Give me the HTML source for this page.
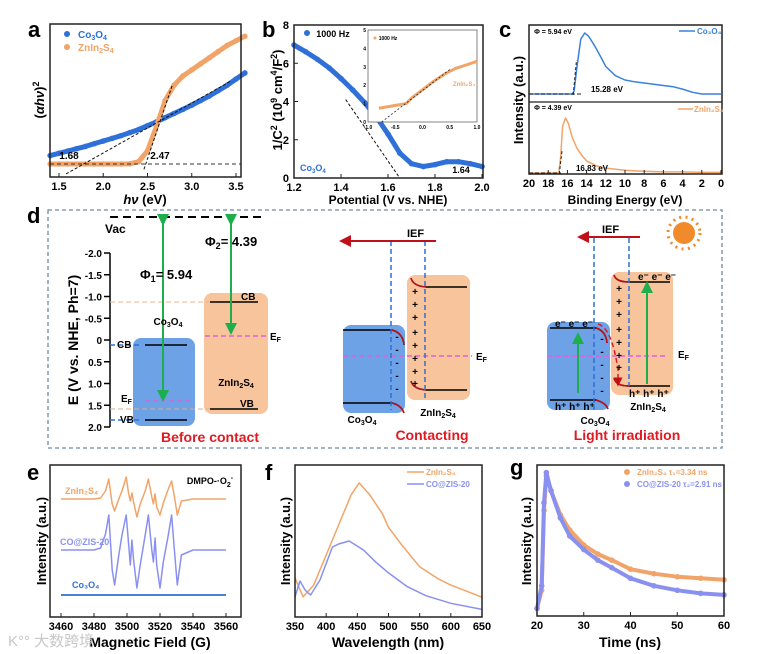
<!DOCTYPE html>
<html><head><meta charset="utf-8"><style>
html,body{margin:0;padding:0;background:#fff;}
svg{display:block;font-family:"Liberation Sans","Noto Sans CJK SC",sans-serif;}
.t{font-weight:bold;fill:#000;}
</style></head><body>
<svg id="fig" width="763" height="654" viewBox="0 0 763 654" xmlns="http://www.w3.org/2000/svg">
<defs>
<marker id="ag" markerWidth="6" markerHeight="6" refX="3" refY="3" orient="auto"><path d="M0,0 L6,3 L0,6 Z" fill="#1fae4e"/></marker>
<marker id="ar" markerWidth="6" markerHeight="6" refX="3" refY="3" orient="auto"><path d="M0,0 L6,3 L0,6 Z" fill="#c0101a"/></marker>
</defs>
<text x="28" y="37" font-size="22" class="t">a</text>
<text x="262" y="37" font-size="22" class="t">b</text>
<text x="499" y="37" font-size="22" class="t">c</text>
<text x="27" y="223" font-size="22" class="t">d</text>
<text x="27" y="480" font-size="22" class="t">e</text>
<text x="265" y="480" font-size="22" class="t">f</text>
<text x="510" y="475" font-size="22" class="t">g</text>

<g id="pa"></g>
<g id="pb"></g>
<g id="pc"></g>
<g id="pe"></g>
<g id="pf"></g>
<g id="pg"></g>

<g id="pd">
<rect x="48" y="210" width="674" height="238" fill="none" stroke="#6a8aa8" stroke-width="1.3" stroke-dasharray="4,3"/>
<line x1="110" y1="253" x2="110" y2="427" stroke="#000" stroke-width="1.5"/>
<g id="dticks"></g>
<text transform="translate(78,340) rotate(-90)" text-anchor="middle" font-size="14" class="t">E (V vs. NHE, Ph=7)</text>
<line x1="110" y1="217" x2="262" y2="217" stroke="#000" stroke-width="2" stroke-dasharray="8,5"/>
<text x="105" y="233" font-size="12" class="t">Vac</text>
<rect x="204" y="293" width="64" height="121" rx="8" fill="#f7c49b"/>
<rect x="133" y="338" width="62" height="88" rx="8" fill="#6ea2e6"/>
<line x1="110" y1="302" x2="210" y2="302" stroke="#e8b488" stroke-dasharray="5,3"/>
<line x1="110" y1="409" x2="258" y2="409" stroke="#d8b090" stroke-dasharray="5,3"/>
<line x1="110" y1="345" x2="142" y2="345" stroke="#2e6fd8" stroke-width="1.5" stroke-dasharray="5,3"/>
<line x1="110" y1="420" x2="142" y2="420" stroke="#2e6fd8" stroke-width="1.5" stroke-dasharray="5,3"/>
<line x1="145" y1="345" x2="187" y2="345" stroke="#000" stroke-width="1.6"/>
<line x1="145" y1="420" x2="187" y2="420" stroke="#000" stroke-width="1.6"/>
<line x1="210" y1="302" x2="258" y2="302" stroke="#000" stroke-width="1.6"/>
<line x1="210" y1="409" x2="258" y2="409" stroke="#000" stroke-width="1.6"/>
<line x1="145" y1="401" x2="192" y2="401" stroke="#e060e0" stroke-width="1.5" stroke-dasharray="5,3"/>
<line x1="205" y1="336" x2="266" y2="336" stroke="#e060e0" stroke-width="1.5" stroke-dasharray="5,3"/>
<line x1="163" y1="220" x2="163" y2="396" stroke="#1fae4e" stroke-width="2" marker-start="url(#ag)" marker-end="url(#ag)"/>
<line x1="231" y1="220" x2="231" y2="329" stroke="#1fae4e" stroke-width="2" marker-start="url(#ag)" marker-end="url(#ag)"/>
<text x="140" y="279" font-size="13" class="t">Φ<tspan font-size="9" dy="3">1</tspan><tspan dy="-3">= 5.94</tspan></text>
<text x="205" y="246" font-size="13" class="t">Φ<tspan font-size="9" dy="3">2</tspan><tspan dy="-3">= 4.39</tspan></text>
<text x="117" y="348" font-size="10" class="t">CB</text>
<text x="120" y="423" font-size="10" class="t">VB</text>
<text x="121" y="402" font-size="10" class="t">E<tspan font-size="7" dy="2">F</tspan></text>
<text x="241" y="300" font-size="10" class="t">CB</text>
<text x="240" y="407" font-size="10" class="t">VB</text>
<text x="270" y="340" font-size="10" class="t">E<tspan font-size="7" dy="2">F</tspan></text>
<text x="168" y="325" font-size="10" text-anchor="middle" class="t">Co<tspan font-size="7" dy="2">3</tspan><tspan dy="-2">O</tspan><tspan font-size="7" dy="2">4</tspan></text>
<text x="236" y="386" font-size="10" text-anchor="middle" class="t">ZnIn<tspan font-size="7" dy="2">2</tspan><tspan dy="-2">S</tspan><tspan font-size="7" dy="2">4</tspan></text>
<text x="210" y="442" font-size="14" text-anchor="middle" font-weight="bold" fill="#e01a22">Before contact</text>

<rect x="407" y="275" width="63" height="125" rx="8" fill="#f7c49b"/>
<rect x="343" y="325" width="62" height="88" rx="8" fill="#6ea2e6"/>
<path d="M343,330 L392,330 Q403,333 404,345" fill="none" stroke="#000" stroke-width="1.5"/>
<path d="M392,330 Q403,333 404,345" fill="none" stroke="#c0101a" stroke-width="1.5"/>
<path d="M343,403 L392,403 Q401,405 404,413" fill="none" stroke="#000" stroke-width="1.5"/>
<path d="M392,403 Q401,405 404,413" fill="none" stroke="#c0101a" stroke-width="1.5"/>
<path d="M411,278 Q413,286 426,287 L467,287" fill="none" stroke="#000" stroke-width="1.5"/>
<path d="M411,278 Q413,286 426,287" fill="none" stroke="#c0101a" stroke-width="1.5"/>
<path d="M411,381 Q413,389 426,390 L467,390" fill="none" stroke="#000" stroke-width="1.5"/>
<path d="M411,381 Q413,389 426,390" fill="none" stroke="#c0101a" stroke-width="1.5"/>
<line x1="343" y1="356" x2="472" y2="356" stroke="#e060e0" stroke-width="1.5" stroke-dasharray="5,3"/>
<text x="476" y="360" font-size="10" class="t">E<tspan font-size="7" dy="2">F</tspan></text>
<line x1="391" y1="241" x2="391" y2="410" stroke="#2e6fd8" stroke-width="1.5" stroke-dasharray="5,3"/>
<line x1="425" y1="241" x2="425" y2="400" stroke="#2e6fd8" stroke-width="1.5" stroke-dasharray="5,3"/>
<line x1="436" y1="241" x2="345" y2="241" stroke="#c0101a" stroke-width="2" marker-end="url(#ar)"/>
<text x="407" y="237" font-size="11" class="t">IEF</text>
<text font-size="10" class="t" text-anchor="middle"><tspan x="397" y="340">-</tspan><tspan x="397" y="353">-</tspan><tspan x="397" y="366">-</tspan><tspan x="397" y="379">-</tspan><tspan x="397" y="392">-</tspan></text>
<text font-size="10" class="t" text-anchor="middle"><tspan x="415" y="295">+</tspan><tspan x="415" y="308">+</tspan><tspan x="415" y="321">+</tspan><tspan x="415" y="336">+</tspan><tspan x="415" y="349">+</tspan><tspan x="415" y="362">+</tspan><tspan x="415" y="375">+</tspan><tspan x="415" y="387">+</tspan></text>
<text x="362" y="423" font-size="10" text-anchor="middle" class="t">Co<tspan font-size="7" dy="2">3</tspan><tspan dy="-2">O</tspan><tspan font-size="7" dy="2">4</tspan></text>
<text x="438" y="416" font-size="10" text-anchor="middle" class="t">ZnIn<tspan font-size="7" dy="2">2</tspan><tspan dy="-2">S</tspan><tspan font-size="7" dy="2">4</tspan></text>
<text x="432" y="440" font-size="14" text-anchor="middle" font-weight="bold" fill="#e01a22">Contacting</text>

<rect x="611" y="272" width="62" height="123" rx="8" fill="#f7c49b"/>
<rect x="547" y="322" width="63" height="88" rx="8" fill="#6ea2e6"/>
<path d="M550,328 L596,328 Q606,331 607,343" fill="none" stroke="#000" stroke-width="1.5"/>
<path d="M596,328 Q606,331 607,343" fill="none" stroke="#c0101a" stroke-width="1.5"/>
<path d="M550,400 L596,400 Q606,403 608,409" fill="none" stroke="#000" stroke-width="1.5"/>
<path d="M596,400 Q606,403 608,409" fill="none" stroke="#c0101a" stroke-width="1.5"/>
<path d="M614,275 Q616,282 629,282 L670,282" fill="none" stroke="#000" stroke-width="1.5"/>
<path d="M614,275 Q616,282 629,282" fill="none" stroke="#c0101a" stroke-width="1.5"/>
<path d="M614,378 Q616,386 629,386 L670,386" fill="none" stroke="#000" stroke-width="1.5"/>
<path d="M614,378 Q616,386 629,386" fill="none" stroke="#c0101a" stroke-width="1.5"/>
<path d="M598,324 Q612,328 618,370 L618,382" fill="none" stroke="#e01a22" stroke-width="1.5" stroke-dasharray="5,3" marker-end="url(#ar)"/>
<line x1="548" y1="356" x2="668" y2="356" stroke="#e060e0" stroke-width="1.5" stroke-dasharray="5,3"/>
<text x="678" y="358" font-size="10" class="t">E<tspan font-size="7" dy="2">F</tspan></text>
<line x1="594" y1="238" x2="594" y2="410" stroke="#2e6fd8" stroke-width="1.5" stroke-dasharray="5,3"/>
<line x1="629" y1="238" x2="629" y2="386" stroke="#2e6fd8" stroke-width="1.5" stroke-dasharray="5,3"/>
<line x1="640" y1="237" x2="583" y2="237" stroke="#c0101a" stroke-width="2" marker-end="url(#ar)"/>
<text x="602" y="233" font-size="11" class="t">IEF</text>
<line x1="578" y1="393" x2="578" y2="338" stroke="#1fae4e" stroke-width="2" marker-end="url(#ag)"/>
<line x1="647" y1="384" x2="647" y2="287" stroke="#1fae4e" stroke-width="2" marker-end="url(#ag)"/>
<text x="555" y="327" font-size="10" class="t">e⁻ e⁻ e⁻</text>
<text x="638" y="280" font-size="10" class="t">e⁻ e⁻ e⁻</text>
<text x="555" y="410" font-size="10" class="t">h⁺ h⁺ h⁺</text>
<text x="629" y="397" font-size="10" class="t">h⁺ h⁺ h⁺</text>
<text font-size="10" class="t" text-anchor="middle"><tspan x="602" y="342">-</tspan><tspan x="602" y="355">-</tspan><tspan x="602" y="368">-</tspan><tspan x="602" y="381">-</tspan><tspan x="602" y="394">-</tspan></text>
<text font-size="10" class="t" text-anchor="middle"><tspan x="619" y="292">+</tspan><tspan x="619" y="305">+</tspan><tspan x="619" y="318">+</tspan><tspan x="619" y="333">+</tspan><tspan x="619" y="346">+</tspan><tspan x="619" y="359">+</tspan><tspan x="619" y="371">+</tspan></text>
<text x="595" y="424" font-size="10" text-anchor="middle" class="t">Co<tspan font-size="7" dy="2">3</tspan><tspan dy="-2">O</tspan><tspan font-size="7" dy="2">4</tspan></text>
<text x="648" y="410" font-size="10" text-anchor="middle" class="t">ZnIn<tspan font-size="7" dy="2">2</tspan><tspan dy="-2">S</tspan><tspan font-size="7" dy="2">4</tspan></text>
<text x="627" y="440" font-size="14" text-anchor="middle" font-weight="bold" fill="#e01a22">Light irradiation</text>
<g>
<circle cx="684" cy="233" r="11" fill="#f08a2a"/>
<circle cx="684" cy="233" r="16" fill="none" stroke="#f08a2a" stroke-width="3" stroke-dasharray="2,4.4"/>
</g>
</g>
<text x="8" y="646" font-size="15" fill="#c8c8c8">K°° 大数跨境</text>
</svg>
<script>
// panel a
const aX = [1.4,1.5,1.6,1.7,1.8,1.9,2.0,2.1,2.2,2.3,2.4,2.5,2.6,2.7,2.8,2.9,3.0,3.1,3.2,3.3,3.4,3.5,3.6];
const aCo = [14,15.5,17,18.5,20,21.8,23.5,25.2,27,29,31,33.5,36,38.8,41.5,44.2,47,50,53,56.5,60,64,68];
const aZn = [8.5,8.5,8.5,8.5,8.5,8.5,8.5,8.5,8.5,8.6,10,17,33,50,60,66,70,74,78,82,86,89,92];
const aTicks = [1.5,2.0,2.5,3.0,3.5];
// panel b
const bX = [1.2,1.25,1.3,1.35,1.4,1.45,1.5,1.55,1.6,1.65,1.7,1.75,1.8,1.85,1.9,1.95,2.0];
const bY = [6.95,6.6,6.2,5.75,5.2,4.6,3.95,3.2,2.3,1.3,0.75,0.6,0.7,0.85,0.85,0.75,0.6];
const bXTicks = [1.2,1.4,1.6,1.8,2.0];
const bYTicks = [0,2,4,6,8];
const bInsetX = [-0.8,-0.6,-0.4,-0.3,-0.2,0,0.2,0.4,0.6,0.8,1.0];
const bInsetY = [0.75,0.85,0.95,1.0,1.3,1.75,2.2,2.6,2.9,3.1,3.3];
// panel c
const cCoX = [20,16,15.5,15.3,15.0,14.6,14.2,13.8,13.2,12.5,12,11,10,9,8,7,6,5,4,3,2,1,0];
const cCoY = [0,0,0,0.05,0.45,0.9,1.0,0.95,0.8,0.6,0.45,0.3,0.23,0.2,0.18,0.16,0.14,0.12,0.08,0.03,0,0,0];
const cZnX = [20,17,16.9,16.7,16.5,16.2,15.9,15.5,15,14.5,14,13,12,10,8,6,4,2,0];
const cZnY = [0,0,0,0.3,0.85,1.0,0.9,0.65,0.45,0.32,0.22,0.13,0.09,0.05,0.03,0.02,0.02,0.01,0.01];
const cTicks = [20,18,16,14,12,10,8,6,4,2,0];
// panel d
const dTicks = [-2.0,-1.5,-1.0,-0.5,0,0.5,1.0,1.5,2.0];
// panel e
const eX = [3460,3480,3484,3487,3489,3491,3492.5,3495,3497,3499.5,3501,3502,3503,3504,3506,3508,3511,3513,3515,3516,3517,3518,3520,3522,3525,3527,3529,3530.5,3533,3540,3560];
const eZn = [0,0,1,8,20,-5,-12,0,8,22,5,-2,6,-3,-18,-5,8,20,2,-5,5,-8,-16,-4,10,18,0,-16,-2,0,0];
const eCZ = [0,0,2,16,35,-20,-35,-5,15,35,5,-15,10,-10,-38,-15,15,35,0,-12,12,-15,-38,-12,15,35,-5,-35,-5,0,0];
const eCoX = [3460,3560];
const eCo = [0,0];
const eTicks = [3460,3480,3500,3520,3540,3560];
// panel f
const fZnX = [350,363,380,400,420,440,453,470,490,500,520,550,580,600,650];
const fZn = [25.7,13.2,21,40.8,60.5,80.3,88.2,80.3,68,59,48,33,25,21,13];
const fCZX = [350,358,366,375,390,410,420,437,460,480,500,530,560,600,650];
const fCZ = [13.2,23.7,17.8,14.5,24.3,46,48,50,44,36,29,20,14,9,5];
const fTicks = [350,400,450,500,550,600,650];
// panel g
const gX = [20,21,21.5,22,23,25,27,30,33,36,40,45,50,55,60];
const gZn = [5,17,70,93,83,67,57,47,41,37,31,28,26,25,24];
const gCZ = [5,20,75,95,83,65,53,44,37,32,25,20,17,15,14];
const gTicks = [20,30,40,50,60];

const NS = "http://www.w3.org/2000/svg";
function el(tag, attrs, parent){ const e=document.createElementNS(NS,tag); for(const k in attrs) e.setAttribute(k,attrs[k]); parent.appendChild(e); return e; }
function lin(d0,d1,r0,r1){ return v => r0+(v-d0)*(r1-r0)/(d1-d0); }
function pts(xs,ys,sx,sy){ return xs.map((x,i)=>sx(x).toFixed(1)+","+sy(ys[i]).toFixed(1)).join(" "); }
function frame(g,x0,y0,x1,y1,name){ const r=el("rect",{x:x0,y:y0,width:x1-x0,height:y1-y0,fill:"none",stroke:"#222","stroke-width":1.5},g);
 
  }
function xticks(g,ticks,sx,y,fmt,name){ ticks.forEach(t=>{ el("line",{x1:sx(t),y1:y,x2:sx(t),y2:y-4,stroke:"#222"},g);
 const tx=el("text",{x:sx(t),y:y+13,"text-anchor":"middle","font-size":11,"font-weight":"bold"},g); tx.textContent=fmt(t);
 
  }); }
function label(g,x,y,txt,size,name,rot){ const t=el("text",{x:x,y:y,"text-anchor":"middle","font-size":size,"font-weight":"bold"},g);
 if(rot) t.setAttribute("transform","rotate(-90,"+x+","+y+")"); t.innerHTML=txt;
 
  return t; }
function line(g,xs,ys,sx,sy,color,w,name){ const p=el("polyline",{points:pts(xs,ys,sx,sy),fill:"none",stroke:color,"stroke-width":w,"stroke-linejoin":"round"},g);
 
  return p; }
function dots(g,xs,ys,sx,sy,color,r,name){ xs.forEach((x,i)=>{ const c=el("circle",{cx:sx(x),cy:sy(ys[i]),r:r,fill:color},g);
 
  }); }
const BLUE="#2e6fd8", ORANGE="#f2a468", VIOLET="#8a90f0";

(function(){ const g=document.getElementById("pa");
 const sx=lin(1.5,3.5,59,236), sy=lin(0,100,177,24);
 line(g,aX,aCo,sx,sy,BLUE,5,"co3o4-tauc-curve"); dots(g,aX,aCo,sx,sy,BLUE,2.8,"co3o4-tauc-point");
 line(g,aX,aZn,sx,sy,ORANGE,5,"znin2s4-tauc-curve"); dots(g,aX,aZn,sx,sy,ORANGE,2.8,"znin2s4-tauc-point");
 el("line",{x1:50,y1:sy(8.5),x2:241,y2:sy(8.5),stroke:"#333","stroke-dasharray":"4,3"},g);
 el("line",{x1:sx(1.58),y1:sy(2),x2:sx(3.45),y2:sy(63),stroke:"#111","stroke-dasharray":"3,2"},g);
 el("line",{x1:sx(2.46),y1:sy(5),x2:sx(2.78),y2:sy(60),stroke:"#111","stroke-dasharray":"3,2"},g);
 frame(g,50,24,241,177,"panel-a-plot-frame");
 xticks(g,aTicks,sx,177,t=>t.toFixed(1),"a-x-tick-label");
 label(g,145,204,"<tspan font-style='italic'>hν</tspan> (eV)",13,"a-x-axis-title");
 label(g,44,100,"(<tspan font-style='italic'>αhν</tspan>)<tspan font-size='9' dy='-5'>2</tspan>",13,"a-y-axis-title",true);
 label(g,69,159,"1.68",10,"a-bandgap-co3o4"); label(g,160,159,"2.47",10,"a-bandgap-znin2s4");
 el("circle",{cx:67,cy:34,r:3,fill:BLUE},g); el("circle",{cx:67,cy:47,r:3,fill:ORANGE},g);
 const l1=el("text",{x:78,y:38,"font-size":10,"font-weight":"bold",fill:BLUE},g); l1.innerHTML="Co<tspan font-size='7' dy='2'>3</tspan><tspan dy='-2'>O</tspan><tspan font-size='7' dy='2'>4</tspan>";
 
 const l2=el("text",{x:78,y:51,"font-size":10,"font-weight":"bold",fill:ORANGE},g); l2.innerHTML="ZnIn<tspan font-size='7' dy='2'>2</tspan><tspan dy='-2'>S</tspan><tspan font-size='7' dy='2'>4</tspan>";
 
})();

(function(){ const g=document.getElementById("pb");
 const sx=lin(1.2,2.0,294,482), sy=lin(0,8,178,25);
 line(g,bX,bY,sx,sy,BLUE,5,"co3o4-mott-schottky-curve"); dots(g,bX,bY,sx,sy,BLUE,2.8,"co3o4-ms-point");
 el("line",{x1:sx(1.42),y1:sy(4.1),x2:sx(1.65),y2:sy(0),stroke:"#111","stroke-dasharray":"3,2"},g);
 frame(g,294,25,483,178,"panel-b-plot-frame");
 xticks(g,bXTicks,sx,178,t=>t.toFixed(1),"b-x-tick-label");
 bYTicks.forEach(t=>{ el("line",{x1:294,y1:sy(t),x2:298,y2:sy(t),stroke:"#222"},g);
  const tx=el("text",{x:289,y:sy(t)+4,"text-anchor":"end","font-size":11,"font-weight":"bold"},g); tx.textContent=t;
   });
 label(g,388,204,"Potential (V vs. NHE)",12,"b-x-axis-title");
 label(g,282,100,"1/C<tspan font-size='9' dy='-5'>2</tspan><tspan dy='5'> (10</tspan><tspan font-size='9' dy='-5'>9</tspan><tspan dy='5'> cm</tspan><tspan font-size='9' dy='-5'>4</tspan><tspan dy='5'>/F</tspan><tspan font-size='9' dy='-5'>2</tspan><tspan dy='5'>)</tspan>",13,"b-y-axis-title",true);
 el("circle",{cx:307,cy:33,r:3,fill:BLUE},g);
 label(g,333,37,"1000 Hz",9,"b-legend-1000hz");
 const co=el("text",{x:300,y:171,"font-size":9,"font-weight":"bold",fill:BLUE},g); co.innerHTML="Co<tspan font-size='6' dy='2'>3</tspan><tspan dy='-2'>O</tspan><tspan font-size='6' dy='2'>4</tspan>";
 
 label(g,461,173,"1.64",9,"b-flatband-value");
 const ix=lin(-1,1,368,477), iy=lin(0,5,122,30);
 el("rect",{x:368,y:30,width:109,height:92,fill:"#fff",stroke:"#666","stroke-width":0.8},g);
 line(g,bInsetX,bInsetY,ix,iy,ORANGE,3,"inset-znin2s4-curve");
 el("line",{x1:ix(-0.75),y1:iy(0),x2:ix(0.5),y2:iy(2.85),stroke:"#222","stroke-dasharray":"2,2","stroke-width":0.8},g);
 [-1,-0.5,0,0.5,1].forEach(t=>{ const tx=el("text",{x:ix(t),y:129,"text-anchor":"middle","font-size":5,"font-weight":"bold"},g); tx.textContent=t.toFixed(1);
   });
 [0,1,2,3,4,5].forEach(t=>{ const tx=el("text",{x:366,y:iy(t)+2,"text-anchor":"end","font-size":5,"font-weight":"bold"},g); tx.textContent=t;
   });
 el("circle",{cx:375,cy:38,r:1.5,fill:ORANGE},g);
 label(g,388,40,"1000 Hz",5,"inset-legend");
 const zl=el("text",{x:453,y:86,"font-size":6,"font-weight":"bold",fill:ORANGE},g); zl.textContent="ZnIn₂S₄";
 
})();

(function(){ const g=document.getElementById("pc");
 const sx=lin(20,0,529,721), syT=lin(0,1,94,33), syB=lin(0,1,173,118);
 line(g,cCoX,cCoY,sx,syT,"#3a80dd",1.5,"co3o4-ups-curve");
 line(g,cZnX,cZnY,sx,syB,ORANGE,1.5,"znin2s4-ups-curve");
 el("line",{x1:529,y1:94,x2:582,y2:94,stroke:"#222","stroke-dasharray":"4,2"},g);
 el("line",{x1:sx(15.4),y1:95,x2:sx(15.05),y2:60,stroke:"#222","stroke-dasharray":"3,2"},g);
 el("line",{x1:529,y1:173,x2:561,y2:173,stroke:"#222","stroke-dasharray":"4,2"},g);
 el("line",{x1:sx(16.85),y1:174,x2:sx(16.55),y2:150,stroke:"#222","stroke-dasharray":"3,2"},g);
 frame(g,529,25,722,174,"panel-c-plot-frame");
 el("line",{x1:529,y1:102,x2:722,y2:102,stroke:"#222","stroke-width":1.2},g);
 xticks(g,cTicks,sx,174,t=>t,"c-x-tick-label");
 label(g,625,204,"Binding Energy (eV)",12,"c-x-axis-title");
 label(g,523,100,"Intensity (a.u.)",13,"c-y-axis-title",true);
 label(g,553,34,"Φ = 5.94 eV",7,"c-work-function-co3o4");
 label(g,553,110,"Φ = 4.39 eV",7,"c-work-function-znin2s4");
 label(g,607,92,"15.28 eV",8,"c-cutoff-co3o4"); label(g,592,171,"16.83 eV",8,"c-cutoff-znin2s4");
 el("line",{x1:679,y1:31,x2:695,y2:31,stroke:"#3a80dd","stroke-width":1.5},g);
 const l1=el("text",{x:697,y:34,"font-size":8,"font-weight":"bold",fill:"#3a80dd"},g); l1.textContent="Co₃O₄";
 
 el("line",{x1:678,y1:109,x2:693,y2:109,stroke:ORANGE,"stroke-width":1.5},g);
 const l2=el("text",{x:694,y:112,"font-size":8,"font-weight":"bold",fill:ORANGE},g); l2.textContent="ZnIn₂S₄";
 
})();

(function(){ const g=document.getElementById("dticks"); const sy=lin(-2,2,253,427);
 dTicks.forEach(t=>{ el("line",{x1:104,y1:sy(t),x2:110,y2:sy(t),stroke:"#000","stroke-width":1.5},g);
  const tx=el("text",{x:102,y:sy(t)+4,"text-anchor":"end","font-size":10,"font-weight":"bold"},g); tx.textContent=(t===0?"0":t.toFixed(1));
   });
})();

(function(){ const g=document.getElementById("pe");
 const sx=lin(3460,3560,61,226);
 const syZ=v=>499-v, syC=v=>550-v, syO=v=>595-v;
 line(g,eX,eZn,sx,syZ,ORANGE,1.5,"znin2s4-epr-spectrum");
 line(g,eX,eCZ,sx,syC,VIOLET,1.5,"co-zis-20-epr-spectrum");
 line(g,eCoX,eCo,sx,syO,BLUE,1.8,"co3o4-epr-spectrum");
 frame(g,50,465,241,617,"panel-e-plot-frame");
 xticks(g,eTicks,sx,617,t=>t,"e-x-tick-label");
 label(g,150,647,"Magnetic Field (G)",14,"e-x-axis-title");
 label(g,46,541,"Intensity (a.u.)",13,"e-y-axis-title",true);
 label(g,210,484,"DMPO-·O<tspan font-size='7' dy='3'>2</tspan><tspan font-size='7' dy='-7'>-</tspan>",9,"e-dmpo-label");
 const a=el("text",{x:65,y:494,"font-size":9,"font-weight":"bold",fill:ORANGE},g); a.textContent="ZnIn₂S₄";
 
 const b=el("text",{x:60,y:545,"font-size":9,"font-weight":"bold",fill:VIOLET},g); b.textContent="CO@ZIS-20";
 
 const c=el("text",{x:72,y:588,"font-size":9,"font-weight":"bold",fill:BLUE},g); c.textContent="Co₃O₄";
 
})();

(function(){ const g=document.getElementById("pf");
 const sx=lin(350,650,295,482), sy=lin(0,100,617,465);
 line(g,fZnX,fZn,sx,sy,ORANGE,1.5,"znin2s4-pl-spectrum");
 line(g,fCZX,fCZ,sx,sy,VIOLET,1.5,"co-zis-20-pl-spectrum");
 frame(g,295,465,482,617,"panel-f-plot-frame");
 xticks(g,fTicks,sx,617,t=>t,"f-x-tick-label");
 label(g,388,647,"Wavelength (nm)",14,"f-x-axis-title");
 label(g,290,541,"Intensity (a.u.)",13,"f-y-axis-title",true);
 el("line",{x1:407,y1:472,x2:424,y2:472,stroke:ORANGE,"stroke-width":1.5},g);
 const l1=el("text",{x:426,y:475,"font-size":8,"font-weight":"bold",fill:ORANGE},g); l1.textContent="ZnIn₂S₄";
 
 el("line",{x1:407,y1:484,x2:424,y2:484,stroke:VIOLET,"stroke-width":1.5},g);
 const l2=el("text",{x:426,y:487,"font-size":8,"font-weight":"bold",fill:VIOLET},g); l2.textContent="CO@ZIS-20";
 
})();

(function(){ const g=document.getElementById("pg");
 const sx=lin(20,60,537,724), sy=lin(0,100,616,465);
 line(g,gX,gZn,sx,sy,ORANGE,4,"znin2s4-trpl-decay"); dots(g,gX,gZn,sx,sy,ORANGE,2.8,"znin2s4-trpl-point");
 line(g,gX,gCZ,sx,sy,VIOLET,4,"co-zis-20-trpl-decay"); dots(g,gX,gCZ,sx,sy,VIOLET,2.8,"co-zis-20-trpl-point");
 frame(g,537,465,724,616,"panel-g-plot-frame");
 xticks(g,gTicks,sx,616,t=>t,"g-x-tick-label");
 label(g,630,647,"Time (ns)",14,"g-x-axis-title");
 label(g,531,541,"Intensity (a.u.)",13,"g-y-axis-title",true);
 el("circle",{cx:627,cy:472,r:3,fill:ORANGE},g); el("circle",{cx:627,cy:484,r:3,fill:VIOLET},g);
 const l1=el("text",{x:637,y:475,"font-size":8,"font-weight":"bold",fill:ORANGE},g); l1.textContent="ZnIn₂S₄ τ₁=3.34 ns";
 
 const l2=el("text",{x:637,y:487,"font-size":8,"font-weight":"bold",fill:VIOLET},g); l2.textContent="CO@ZIS-20 τ₂=2.91 ns";
 
})();
</script>
</body></html>
